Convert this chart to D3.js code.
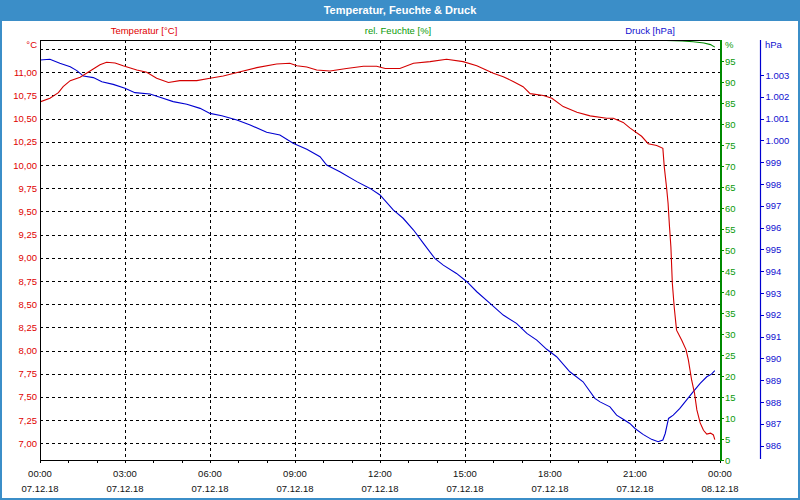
<!DOCTYPE html>
<html><head><meta charset="utf-8">
<script src="https://cdn.jsdelivr.net/npm/d3@7"></script>
<style>
body{margin:0;background:#fff}
svg{display:block}
text{font-family:"Liberation Sans",Arial,sans-serif;font-size:9.5px}
</style>
</head><body><svg id="c" width="800" height="500"></svg>
<script>
// ---- data (minutes since 07.12.18 00:00) ----
const tempMinutes = [0,21,39,49,64,85,106,127,141,159,176,205,226,247,272,296,332,360,388,424,459,501,529,544,565,586,614,649,685,713,731,762,791,826,861,896,925,960,981,1002,1023,1038,1066,1084,1108,1137,1165,1200,1214,1235,1249,1274,1288,1306,1319,1322,1327,1330,1333,1336,1339,1343,1348,1359,1368,1373,1380,1386,1391,1398,1405,1412,1420,1426,1429];
const tempValues  = [10.68,10.72,10.78,10.845,10.91,10.946,11.014,11.08,11.108,11.10,11.07,11.025,11.00,10.935,10.89,10.91,10.91,10.935,10.96,11.006,11.05,11.09,11.097,11.07,11.057,11.025,11.014,11.04,11.065,11.065,11.04,11.04,11.097,11.115,11.14,11.115,11.07,10.99,10.953,10.90,10.845,10.77,10.75,10.72,10.63,10.57,10.53,10.504,10.504,10.46,10.40,10.31,10.23,10.21,10.18,9.98,9.75,9.59,9.34,9.12,8.73,8.47,8.22,8.11,8.01,7.90,7.68,7.54,7.36,7.22,7.14,7.10,7.11,7.09,7.04];

const pressMinutes = [0,21,42,64,78,92,113,131,155,180,201,233,254,282,311,339,360,385,417,445,480,508,536,565,593,607,635,671,699,720,748,769,791,812,836,854,882,904,925,953,981,1009,1031,1052,1073,1094,1122,1150,1175,1186,1207,1221,1235,1249,1260,1277,1295,1309,1319,1324,1331,1341,1355,1369,1383,1398,1412,1422,1429];
const pressValues  = [1003.69,1003.72,1003.54,1003.38,1003.20,1002.95,1002.88,1002.69,1002.57,1002.39,1002.19,1002.13,1001.98,1001.78,1001.66,1001.47,1001.24,1001.13,1000.94,1000.71,1000.37,1000.25,999.87,999.59,999.25,998.87,998.56,998.11,997.80,997.50,996.81,996.43,995.89,995.28,994.59,994.28,993.90,993.52,993.06,992.53,991.99,991.61,991.15,990.84,990.42,990.08,989.39,988.93,988.17,988.01,987.78,987.40,987.21,987.02,986.79,986.52,986.29,986.18,986.26,986.56,987.25,987.40,987.71,988.09,988.47,988.86,989.16,989.28,989.44];

const humMinutes = [0,1300,1326,1360,1383,1406,1420,1429];
const humValues  = [100,100,99.9,99.8,99.6,99.3,98.9,98.3];

const hourTicks  = [0,3,6,9,12,15,18,21,24];
const timeLabels = ["00:00","03:00","06:00","09:00","12:00","15:00","18:00","21:00","00:00"];
const dateLabels = ["07.12.18","07.12.18","07.12.18","07.12.18","07.12.18","07.12.18","07.12.18","07.12.18","08.12.18"];
const tempTicks  = [7,7.25,7.5,7.75,8,8.25,8.5,8.75,9,9.25,9.5,9.75,10,10.25,10.5,10.75,11];
const tempGrid   = [7,7.25,7.5,7.75,8,8.25,8.5,8.75,9,9.25,9.5,9.75,10,10.25,10.5,10.75,11,11.25];
const humTicks   = [0,5,10,15,20,25,30,35,40,45,50,55,60,65,70,75,80,85,90,95];
const pressTicks = [986,987,988,989,990,991,992,993,994,995,996,997,998,999,1000,1001,1002,1003];

const titleText = "Temperatur, Feuchte & Druck";
const seriesNames = ["Temperatur [°C]","rel. Feuchte [%]","Druck [hPa]"];

// ---- layout ----
const L=40, R=720, T=40, B=460;
const cRed="#d40000", cGreen="#008a00", cBlue="#0000d0";
const cRedTxt="#e00000", cGreenTxt="#0a9a0a", cBlueTxt="#1010d0";
const frame="#3b8ec8";

const svg=d3.select("#c");
const x=d3.scaleLinear().domain([0,1440]).range([L,R]);
const yT=d3.scaleLinear().domain([6.82,11.348]).range([B,T]);
const yH=d3.scaleLinear().domain([0,100]).range([B,T]);
const yP=d3.scaleLinear().domain([985.344,1004.605]).range([B,T]);

// frame + title bar
svg.append("rect").attr("x",1).attr("y",1).attr("width",798).attr("height",498)
  .attr("fill","#fff").attr("stroke",frame).attr("stroke-width",2);
svg.append("rect").attr("x",0).attr("y",0).attr("width",800).attr("height",21).attr("fill",frame);
svg.append("text").attr("x",400).attr("y",14).attr("text-anchor","middle")
  .attr("fill","#fff").style("font-weight","bold").style("font-size","11px").text(titleText);

// series legend labels
const legX=[144,398,650], legC=[cRedTxt,cGreenTxt,cBlueTxt];
seriesNames.forEach((s,i)=>svg.append("text").attr("x",legX[i]).attr("y",34)
  .attr("text-anchor","middle").attr("fill",legC[i]).text(s));

// grid
const grid=svg.append("g").attr("stroke","#000").attr("stroke-dasharray","3,3").attr("shape-rendering","crispEdges");
grid.selectAll("line.h").data(tempGrid).join("line").attr("class","h")
  .attr("x1",L).attr("x2",R).attr("y1",d=>Math.round(yT(d))+0.5).attr("y2",d=>Math.round(yT(d))+0.5);
grid.selectAll("line.v").data(hourTicks.slice(1,-1)).join("line").attr("class","v")
  .attr("y1",T).attr("y2",B).attr("x1",d=>Math.round(x(d*60))+0.5).attr("x2",d=>Math.round(x(d*60))+0.5);

// clip
svg.append("clipPath").attr("id","pc").append("rect").attr("x",L).attr("y",T).attr("width",R-L).attr("height",B-T);
const plot=svg.append("g").attr("clip-path","url(#pc)");

const mk=(mins,vals,ys)=>d3.line().x((d,i)=>x(mins[i])).y(d=>ys(d))(vals);
plot.append("path").attr("d",mk(humMinutes,humValues,yH)).attr("fill","none").attr("stroke",cGreen).attr("stroke-width",1.1);
plot.append("path").attr("d",mk(pressMinutes,pressValues,yP)).attr("fill","none").attr("stroke",cBlue).attr("stroke-width",1.1);
plot.append("path").attr("d",mk(tempMinutes,tempValues,yT)).attr("fill","none").attr("stroke",cRed).attr("stroke-width",1.1);

// plot border lines
const bd=svg.append("g").attr("stroke","#000").attr("shape-rendering","crispEdges");
bd.append("line").attr("x1",L).attr("x2",R).attr("y1",T+0.5).attr("y2",T+0.5).attr("stroke-width",1.5);
bd.append("line").attr("x1",L+0.5).attr("x2",L+0.5).attr("y1",T).attr("y2",B+1).attr("stroke-width",1.5);

// left axis (temperature)
const fmtT=d=>d3.format(".2f")(d).replace(".",",");
const gl=svg.append("g").attr("transform",`translate(${L},0)`)
  .call(d3.axisLeft(yT).tickValues(tempTicks).tickSize(0).tickPadding(3).tickFormat(fmtT));
gl.select(".domain").remove();
gl.selectAll("text").attr("fill",cRedTxt).style("font-size","9.5px").style("font-family","'Liberation Sans',Arial,sans-serif");
svg.append("text").attr("x",37).attr("y",48).attr("text-anchor","end").attr("fill",cRedTxt).text("°C");

// bottom axis
const hours=d3.range(0,25).map(h=>h*60);
const gb=svg.append("g").attr("transform",`translate(0,${B})`)
  .call(d3.axisBottom(x).tickValues(hours).tickSize(3).tickFormat(""));
gb.select(".domain").attr("stroke-width",1.5);
gb.selectAll("line,path").attr("shape-rendering","crispEdges");
hourTicks.forEach((h,i)=>{
  svg.append("text").attr("x",x(h*60)).attr("y",477).attr("text-anchor","middle").attr("fill","#111").text(timeLabels[i]);
  svg.append("text").attr("x",x(h*60)).attr("y",492).attr("text-anchor","middle").attr("fill","#111").text(dateLabels[i]);
});

// green axis (humidity)
const gg=svg.append("g").attr("transform",`translate(${R+1},0)`)
  .call(d3.axisRight(yH).tickValues(humTicks).tickSize(3).tickPadding(1).tickFormat(d=>d));
gg.select(".domain").remove();
gg.selectAll("line").attr("stroke",cGreen).attr("shape-rendering","crispEdges");
gg.selectAll("text").attr("fill",cGreenTxt).style("font-size","9.5px").style("font-family","'Liberation Sans',Arial,sans-serif");
svg.append("line").attr("x1",R+1).attr("x2",R+1).attr("y1",T).attr("y2",B+1).attr("stroke",cGreen).attr("stroke-width",2);
svg.append("text").attr("x",725).attr("y",48).attr("fill",cGreenTxt).text("%");

// blue axis (pressure)
const de=d3.formatLocale({decimal:",",thousands:".",grouping:[3],currency:["","€"]});
const gp=svg.append("g").attr("transform",`translate(760.5,0)`)
  .call(d3.axisRight(yP).tickValues(pressTicks).tickSize(3).tickPadding(2).tickFormat(de.format(",")));
gp.select(".domain").remove();
gp.selectAll("line").attr("stroke",cBlue).attr("shape-rendering","crispEdges");
gp.selectAll("text").attr("fill",cBlueTxt).style("font-size","9.5px").style("font-family","'Liberation Sans',Arial,sans-serif");
svg.append("line").attr("x1",760.5).attr("x2",760.5).attr("y1",T).attr("y2",B-1).attr("stroke",cBlue).attr("stroke-width",1.2);
svg.append("text").attr("x",765).attr("y",48).attr("fill",cBlueTxt).text("hPa");
</script>
</body></html>
